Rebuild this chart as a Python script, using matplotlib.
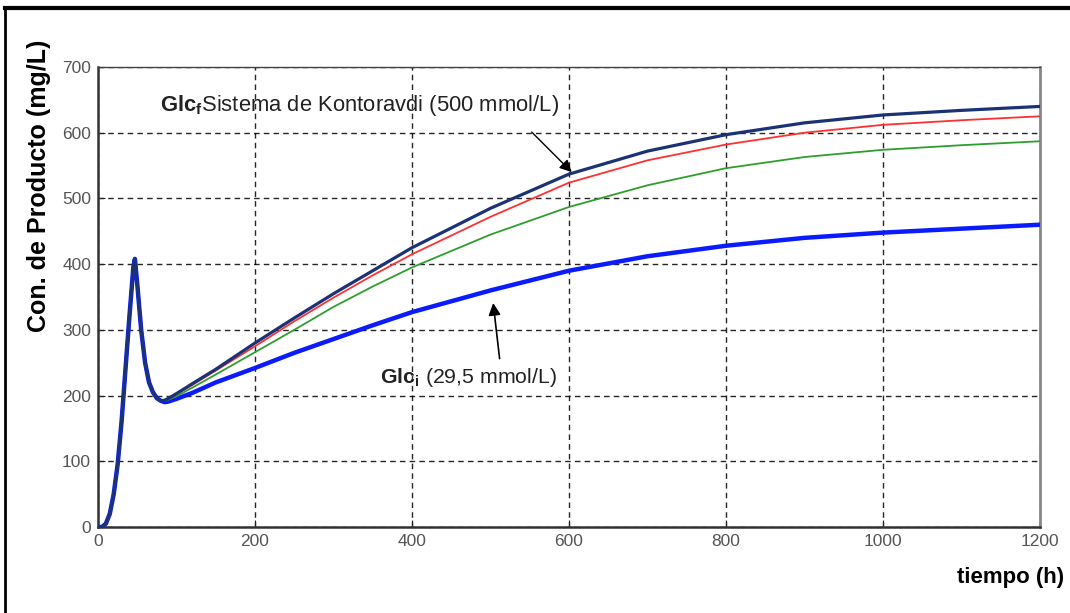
import numpy as np
import matplotlib
matplotlib.use('Agg')
import matplotlib.pyplot as plt
from matplotlib.lines import Line2D

plt.rcParams['font.family'] = ['Liberation Sans', 'DejaVu Sans']
plt.rcParams['mathtext.fontset'] = 'custom'
plt.rcParams['mathtext.rm'] = 'Liberation Sans'
plt.rcParams['mathtext.bf'] = 'Liberation Sans:bold'
plt.rcParams['mathtext.it'] = 'Liberation Sans:bold'

# common start (all runs overlap until ~80 h)
t_start = [0, 5, 10, 15, 20, 25, 30, 35, 40, 45, 47, 50, 55, 60, 65, 70, 75, 80]
v_start = [0, 0, 5, 20, 50, 95, 160, 240, 320, 395, 408, 370, 300, 250, 220, 205, 196, 192]

t_tail = [85, 90, 100, 120, 150, 200, 250, 300, 350, 400, 500, 600, 700, 800, 900, 1000, 1100, 1200]
navy_tail = [193, 196, 203, 218, 240, 280, 318, 355, 390, 425, 485, 537, 572, 597, 615, 627, 634, 640]
red_tail = [193, 195, 202, 216, 238, 275, 313, 349, 383, 415, 472, 524, 558, 582, 600, 612, 619, 625]
green_tail = [192, 194, 199, 212, 232, 266, 300, 335, 366, 395, 445, 487, 520, 546, 563, 574, 581, 587]
blue_tail = [190, 191, 195, 204, 220, 242, 265, 286, 307, 327, 360, 390, 412, 428, 440, 448, 454, 460]

t = np.array(t_start + t_tail)
navy = np.array(v_start + navy_tail)
red = np.array(v_start + red_tail)
green = np.array(v_start + green_tail)
blue = np.array(v_start + blue_tail)

fig = plt.figure(figsize=(10.7, 6.13), dpi=100)
ax = fig.add_axes([98/1070, 1-527/613, (1040-98)/1070, (527-67)/613])

ax.plot(t, blue, color='#0a1cff', lw=3.2, solid_capstyle='round', zorder=3)
ax.plot(t, green, color='#2e9e2e', lw=1.3, zorder=4)
ax.plot(t, red, color='#ff3030', lw=1.3, zorder=5)
ax.plot(t, navy, color='#1b3275', lw=2.3, zorder=6)

ax.set_xlim(0, 1200)
ax.set_ylim(0, 700)
ax.set_xticks(range(0, 1201, 200))
ax.set_yticks(range(0, 701, 100))
ax.grid(True, color='black', linestyle=(0, (4, 3)), lw=1, alpha=0.85)
ax.tick_params(direction='in', length=5, labelsize=12.5, labelcolor='#555555',
               color='#222222', pad=5)
for s in ['left', 'bottom']:
    ax.spines[s].set_color('#333333')
    ax.spines[s].set_linewidth(1.8)
ax.spines['top'].set_color('#444444')
ax.spines['top'].set_linewidth(1.0)
ax.spines['right'].set_color('#888888')
ax.spines['right'].set_linewidth(2.0)

ax.set_ylabel('Con. de Producto (mg/L)', fontsize=18, fontweight='bold')
ax.yaxis.set_label_coords(-47/942, 0.742)
fig.text(1064/1070, 1-578/613, 'tiempo (h)', fontsize=16, fontweight='bold',
         ha='right', va='center')

ax.text(79, 642, r'$\mathbf{Glc}_{\mathbf{f}}$Sistema de Kontoravdi (500 mmol/L)',
        fontsize=15.8, color='#222222', va='center', ha='left')
ax.annotate('', xy=(606, 537), xytext=(550, 604),
            arrowprops=dict(arrowstyle='-|>', color='black', lw=1.0,
                            mutation_scale=18))

ax.text(359, 228, r'$\mathbf{Glc}_{\mathbf{i}}$ (29,5 mmol/L)',
        fontsize=15.3, color='#222222', va='center', ha='left')
ax.annotate('', xy=(503, 345), xytext=(512, 252),
            arrowprops=dict(arrowstyle='-|>', color='black', lw=1.2,
                            mutation_scale=18))

# outer frame (top and left)
fig.add_artist(Line2D([5/1070, 1], [1-8/613, 1-8/613], color='black', lw=3))
fig.add_artist(Line2D([5/1070, 5/1070], [0, 1-8/613], color='black', lw=2))

fig.savefig('out.png', dpi=100)
